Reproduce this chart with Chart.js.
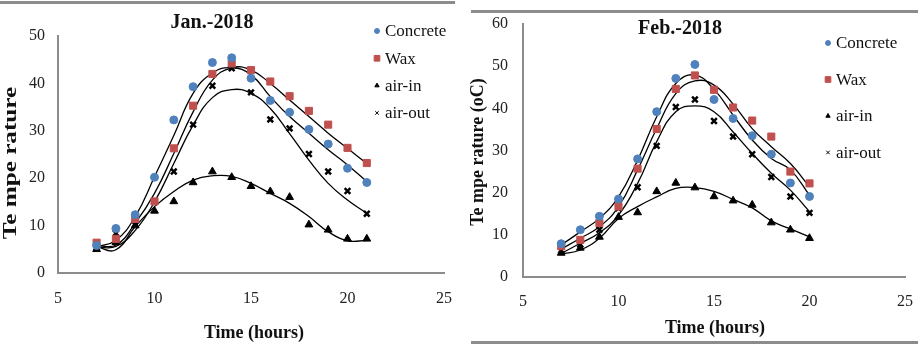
<!DOCTYPE html>
<html>
<head>
<meta charset="utf-8">
<script src="https://cdn.jsdelivr.net/npm/chart.js@4.4.1/dist/chart.umd.min.js"></script>
<style>
body { margin:0; background:#fff; width:922px; height:346px; position:relative; overflow:hidden; }
.box { position:absolute; top:0; height:346px; }
.rule { position:absolute; height:3px; background:#8c8c8c; }
</style>
</head>
<body>
<div class="rule" style="left:0;top:1px;width:455px"></div>
<div class="rule" style="left:471px;top:10px;width:447px"></div>
<div class="rule" style="left:471px;top:341px;width:447px"></div>
<div class="box" style="left:0;width:460px"><canvas id="jan" width="460" height="346"></canvas></div>
<div class="box" style="left:460px;width:462px"><canvas id="feb" width="462" height="346"></canvas></div>
<script>
// values
const seriesNames = ['Concrete', 'Wax', 'air-in', 'air-out'];

const hoursJan = [7, 8, 9, 10, 11, 12, 13, 14, 15, 16, 17, 18, 19, 20, 21];
const janConcrete = [5.8, 9.4, 12.3, 20.2, 32.3, 39.3, 44.4, 45.4, 41.1, 36.4, 33.9, 30.3, 27.2, 22.1, 19.1];
const janWax      = [6.4, 7.2, 11.4, 15.1, 26.3, 35.3, 42.0, 44.2, 42.8, 40.4, 37.3, 34.2, 31.3, 26.4, 23.2];
const janAirIn    = [5.0, 6.5, 10.0, 13.1, 15.1, 19.1, 21.4, 20.2, 18.3, 17.2, 16.0, 10.2, 9.1, 7.2, 7.2];
const janAirOut   = [5.3, 8.4, 10.2, 15.2, 21.4, 31.3, 39.5, 43.2, 38.1, 32.4, 30.5, 25.1, 21.4, 17.3, 12.5];
// trend curves, read at each hour
const janConcreteFit = [5.5, 6.9, 11.9, 20.3, 29.0, 37.9, 42.2, 43.3, 41.8, 37.2, 33.0, 29.5, 26.0, 22.8, 19.3];
const janWaxFit      = [5.8, 5.9, 10.5, 16.8, 25.2, 34.0, 40.7, 43.3, 42.8, 40.0, 36.5, 33.0, 29.5, 26.3, 23.1];
const janAirInFit    = [5.5, 4.9, 9.8, 14.0, 17.2, 19.6, 20.5, 20.4, 18.9, 16.8, 14.7, 11.9, 8.7, 6.8, 6.9];
const janAirOutFit   = [5.5, 5.6, 9.0, 15.0, 23.1, 31.2, 37.0, 38.7, 37.9, 34.7, 29.4, 23.8, 18.9, 15.4, 12.6];

const hoursFeb = [7, 8, 9, 10, 11, 12, 13, 14, 15, 16, 17, 18, 19, 20];
const febConcrete = [7.9, 11.2, 14.4, 18.5, 28.0, 39.2, 47.1, 50.4, 42.1, 37.6, 33.5, 29.1, 22.3, 19.1];
const febWax      = [7.3, 8.8, 12.8, 16.7, 25.7, 35.1, 44.6, 47.8, 44.4, 40.2, 37.1, 33.3, 25.0, 22.2];
const febAirIn    = [5.7, 6.9, 9.5, 14.2, 15.3, 20.3, 22.3, 21.2, 19.1, 18.1, 17.1, 12.9, 11.2, 9.2];
const febAirOut   = [6.3, 7.7, 11.2, 16.3, 21.3, 31.1, 40.3, 42.1, 37.0, 33.3, 29.1, 23.7, 19.1, 15.2];
const febConcreteFit = [7.6, 10.7, 13.9, 19.0, 27.7, 38.0, 45.9, 47.9, 44.5, 38.4, 32.5, 28.1, 25.4, 19.4];
const febWaxFit      = [6.6, 9.2, 11.9, 16.7, 25.4, 35.2, 43.5, 46.5, 45.5, 41.0, 35.2, 30.9, 26.9, 21.4];
const febAirInFit    = [5.4, 6.4, 9.2, 13.9, 16.7, 19.0, 21.0, 21.2, 20.3, 18.4, 16.4, 13.3, 11.4, 9.5];
const febAirOutFit   = [5.6, 8.0, 10.5, 14.7, 22.2, 32.1, 39.2, 40.6, 39.2, 34.4, 29.3, 24.6, 20.6, 15.5];

const xTicks = [5, 10, 15, 20, 25];

const serif = '"Liberation Serif", "Times New Roman", serif';
const markerStyles = [
  { pointStyle: 'circle',   radius: 4,   color: '#4f81bd', border: 1 },
  { pointStyle: 'rect',     radius: 5,   color: '#c0504d', border: 1 },
  { pointStyle: 'triangle', radius: 4.5, color: '#000',    border: 1 },
  { pointStyle: 'crossRot', radius: 4,   color: '#000',    border: 2.5 }
];

function pts(xs, ys) { return xs.map((x, i) => ({ x: x, y: ys[i] })); }

function buildDatasets(hours, values, fits) {
  const marks = values.map((v, i) => ({
    label: seriesNames[i],
    data: pts(hours, v),
    showLine: false,
    pointStyle: markerStyles[i].pointStyle,
    pointRadius: markerStyles[i].radius,
    pointBackgroundColor: markerStyles[i].color,
    pointBorderColor: markerStyles[i].color,
    pointBorderWidth: markerStyles[i].border
  }));
  const lines = fits.map(f => ({
    label: '',
    data: pts(hours, f),
    showLine: true,
    pointRadius: 0,
    borderColor: '#000',
    borderWidth: 1.3,
    tension: 0.45,
    fill: false
  }));
  return marks.concat(lines);
}

const decor = {
  id: 'decor',
  afterDraw(chart, args, o) {
    const ctx = chart.ctx;
    ctx.save();
    ctx.fillStyle = '#111';
    ctx.textAlign = 'center';
    ctx.textBaseline = 'middle';
    ctx.font = 'bold 20px ' + serif;
    ctx.fillText(o.title, o.titleX, o.titleY);
    ctx.font = 'bold 18px ' + serif;
    ctx.fillText('Time (hours)', o.xTitleX, o.xTitleY);
    ctx.save();
    ctx.translate(o.yTitleX, o.yTitleY);
    ctx.rotate(-Math.PI / 2);
    ctx.scale(o.yStretch, 1);
    ctx.fillText(o.yTitle, 0, 0);
    ctx.restore();
    // legend
    ctx.font = '17px ' + serif;
    ctx.textAlign = 'left';
    seriesNames.forEach((name, i) => {
      const y = o.legY + i * o.legStep;
      const m = markerStyles[i];
      ctx.fillStyle = m.color;
      ctx.strokeStyle = m.color;
      Chart.helpers.drawPoint(ctx, {
        pointStyle: m.pointStyle,
        radius: i === 1 ? 4 : 2.5,
        borderWidth: i === 3 ? 1.5 : 1,
        rotation: 0
      }, o.legX, y);
      ctx.fillStyle = '#111';
      ctx.fillText(name, o.legX + 8, y + 1);
    });
    ctx.restore();
  }
};

function makeChart(id, hours, values, fits, yMax, cfg) {
  return new Chart(document.getElementById(id), {
    type: 'scatter',
    data: { datasets: buildDatasets(hours, values, fits) },
    options: {
      responsive: false,
      animation: false,
      devicePixelRatio: 1,
      layout: { padding: { left: 0, top: cfg.top, right: cfg.right, bottom: 0 } },
      plugins: { legend: { display: false }, tooltip: { enabled: false }, decor: cfg.decor },
      scales: {
        x: {
          type: 'linear', min: 5, max: 25,
          afterBuildTicks: s => { s.ticks = xTicks.map(v => ({ value: v })); },
          afterFit: s => { s.height = cfg.xHeight; },
          grid: { display: false },
          border: { display: true, color: '#8c8c8c', width: 2 },
          ticks: { color: '#222', padding: cfg.xPad, maxRotation: 0, font: { family: serif, size: 16 } }
        },
        y: {
          min: 0, max: yMax,
          afterFit: s => { s.width = cfg.yWidth; },
          grid: { display: false },
          border: { display: true, color: '#8c8c8c', width: 2 },
          ticks: { stepSize: 10, color: '#222', padding: cfg.yPad, font: { family: serif, size: 16 } }
        }
      }
    },
    plugins: [decor]
  });
}

makeChart('jan', hoursJan,
  [janConcrete, janWax, janAirIn, janAirOut],
  [janConcreteFit, janWaxFit, janAirInFit, janAirOutFit], 50,
  { top: 36, right: 13, xHeight: 73, yWidth: 58, xPad: 8, yPad: 5,
    decor: { title: 'Jan.-2018', titleX: 212, titleY: 23, xTitleX: 254, xTitleY: 333,
             yTitle: 'Te mpe rature', yTitleX: 11, yTitleY: 163, yStretch: 1.4,
             legX: 377, legY: 31, legStep: 27.3 } });

makeChart('feb', hoursFeb,
  [febConcrete, febWax, febAirIn, febAirOut],
  [febConcreteFit, febWaxFit, febAirInFit, febAirOutFit], 60,
  { top: 24, right: 17, xHeight: 69, yWidth: 63, xPad: 7, yPad: 7,
    decor: { title: 'Feb.-2018', titleX: 220, titleY: 29, xTitleX: 255, xTitleY: 328,
             yTitle: 'Te mpe rature (oC)', yTitleX: 18, yTitleY: 152, yStretch: 1.0,
             legX: 368, legY: 43, legStep: 36.5 } });
</script>
</body>
</html>
